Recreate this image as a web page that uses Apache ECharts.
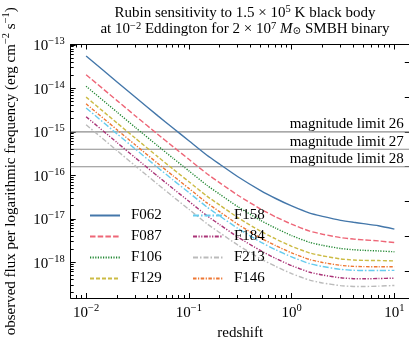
<!DOCTYPE html>
<html><head><meta charset="utf-8">
<script src="https://cdn.jsdelivr.net/npm/echarts@6/dist/echarts.min.js"></script>
<style>html,body{margin:0;padding:0;background:#fff}#c{width:409px;height:339px}</style>
</head><body><div id="c"></div>
<script>
// ---- data ----
const redshift = [0.01,0.02,0.03,0.05,0.07,0.1,0.15,0.2,0.3,0.5,0.7,1,1.5,2,3,4,5,7,10];
const F062 = [5.55e-14,1.41e-14,6.34e-15,2.34e-15,1.23e-15,6.27e-16,2.91e-16,1.80e-16,9.29e-17,4.46e-17,2.94e-17,1.98e-17,1.35e-17,1.14e-17,9.24e-18,8.33e-18,7.78e-18,6.94e-18,5.80e-18];
const F087 = [2.07e-14,5.24e-15,2.36e-15,8.74e-16,4.59e-16,2.34e-16,1.09e-16,6.74e-17,3.49e-17,1.68e-17,1.11e-17,7.53e-18,5.22e-18,4.44e-18,3.70e-18,3.43e-18,3.29e-18,3.11e-18,2.85e-18];
const F106 = [1.12e-14,2.85e-15,1.28e-15,4.75e-16,2.49e-16,1.27e-16,5.91e-17,3.67e-17,1.90e-17,9.17e-18,6.09e-18,4.13e-18,2.88e-18,2.46e-18,2.08e-18,1.95e-18,1.89e-18,1.83e-18,1.75e-18];
const F129 = [6.31e-15,1.60e-15,7.22e-16,2.67e-16,1.40e-16,7.16e-17,3.33e-17,2.07e-17,1.07e-17,5.18e-18,3.45e-18,2.34e-18,1.64e-18,1.41e-18,1.20e-18,1.13e-18,1.11e-18,1.10e-18,1.08e-18];
const F158 = [3.55e-15,9.01e-16,4.06e-16,1.50e-16,7.89e-17,4.03e-17,1.87e-17,1.16e-17,6.03e-18,2.92e-18,1.95e-18,1.33e-18,9.33e-19,8.03e-19,6.89e-19,6.56e-19,6.48e-19,6.50e-19,6.54e-19];
const F184 = [2.24e-15,5.68e-16,2.56e-16,9.48e-17,4.98e-17,2.54e-17,1.18e-17,7.34e-18,3.81e-18,1.85e-18,1.23e-18,8.41e-19,5.93e-19,5.11e-19,4.41e-19,4.21e-19,4.18e-19,4.24e-19,4.33e-19];
const F213 = [1.46e-15,3.71e-16,1.67e-16,6.19e-17,3.25e-17,1.66e-17,7.73e-18,4.80e-18,2.49e-18,1.21e-18,8.07e-19,5.51e-19,3.89e-19,3.36e-19,2.91e-19,2.79e-19,2.78e-19,2.84e-19,2.94e-19];
const F146 = [4.42e-15,1.12e-15,5.05e-16,1.87e-16,9.82e-17,5.02e-17,2.33e-17,1.45e-17,7.50e-18,3.63e-18,2.42e-18,1.65e-18,1.16e-18,9.95e-19,8.51e-19,8.07e-19,7.96e-19,7.94e-19,7.92e-19];
const seriesNames = ['F062','F087','F106','F129','F158','F184','F213','F146'];
const seriesValues = [F062,F087,F106,F129,F158,F184,F213,F146];
const legendCol1 = ['F062','F087','F106','F129'];
const legendCol2 = ['F158','F184','F213','F146'];
const magnitudeLimits = [26, 27, 28];
const xTickExponents = [-2,-1,0,1];
const yTickExponents = [-18,-17,-16,-15,-14,-13];
const titleLine1 = ['Rubin sensitivity to 1.5 × 10','5',' K black body'];
const titleLine2 = ['at 10','−2',' Eddington for 2 × 10','7',' ','M','⊙',' SMBH binary'];
const xLabel = 'redshift';
const yLabelParts = ['observed flux per logarithmic frequency (erg cm','−2',' s','−1',')'];

// ---- styling ----
const FONT = "'Liberation Serif','DejaVu Serif',serif";
const colors = {F062:'#4477AA',F087:'#EE6677',F106:'#228833',F129:'#CCBB44',F158:'#66CCEE',F184:'#AA3377',F213:'#BBBBBB',F146:'#EE7733'};
const dashes = {F062:'solid',F087:[5.5,2.2],F106:[1.2,1.4],F129:[4,2],F158:[6,2,1.5,2],F184:[4,1.5,1.2,1.5,1.2,1.5],F213:[5,2,1.5,2],F146:[3.5,1.5,1.2,1.5]};
const X_MIN = Math.pow(10,-2.15), X_MAX = Math.pow(10,1.15);
const Y_MIN = Math.pow(10,-18.82), Y_MAX = Math.pow(10,-12.99);
const MAG_TOP = 20.975, MAG_BOTTOM = 35.55;

function makeRich(lh){
  return {
    b:{fontSize:15,fontFamily:FONT,fontWeight:'normal',color:'#000',lineHeight:lh,verticalAlign:'bottom'},
    s:{fontSize:10.5,fontFamily:FONT,fontWeight:'normal',color:'#000',lineHeight:10,verticalAlign:'top'},
    i:{fontSize:15,fontFamily:FONT,fontWeight:'normal',color:'#000',fontStyle:'italic',lineHeight:lh,verticalAlign:'bottom'},
    u:{fontSize:10.5,fontFamily:FONT,fontWeight:'normal',color:'#000',lineHeight:10,verticalAlign:'bottom'}
  };
}
const richBase = makeRich(18);
const richTitle = makeRich(16.5);
function powLabel(v, list){
  const l = Math.log10(v), e = Math.round(l);
  if (Math.abs(l-e) > 1e-6 || list.indexOf(e) < 0) return '';
  return '{b|10}{s|' + (e<0 ? '−'+(-e) : String(e)) + '}';
}
const titleText = '{b|'+titleLine1[0]+'}{s|'+titleLine1[1]+'}{b|'+titleLine1[2]+'}\n' +
  '{b|'+titleLine2[0]+'}{s|'+titleLine2[1]+'}{b|'+titleLine2[2]+'}{s|'+titleLine2[3]+'}{b|'+titleLine2[4]+'}{i|'+titleLine2[5]+'}{u|'+titleLine2[6]+'}{b|'+titleLine2[7]+'}';
const yName = '{b|'+yLabelParts[0]+'}{s|'+yLabelParts[1]+'}{b|'+yLabelParts[2]+'}{s|'+yLabelParts[3]+'}{b|'+yLabelParts[4]+'}';

const xMinor = [], yMinor = [];
for (let e=-3; e<=1; e++) for (let k=2; k<=9; k++){ const v=k*Math.pow(10,e); if (v>X_MIN && v<X_MAX) xMinor.push([v, 1e-16]); }
for (let e=-19; e<=-14; e++) for (let k=2; k<=9; k++){ const v=k*Math.pow(10,e); if (v>Y_MIN && v<Y_MAX) yMinor.push([0.1, v]); }

const lineSeries = seriesNames.map((n,si)=>({
  name:n, type:'line', xAxisIndex:0, yAxisIndex:0,
  data: redshift.map((z,i)=>[z, seriesValues[si][i]]),
  symbol:'none', smooth:0.2, z:3,
  lineStyle:{color:colors[n], width:1.4, type:dashes[n]},
  itemStyle:{color:colors[n]}
}));
const magSeries = magnitudeLimits.map(m=>({
  name:'mag'+m, type:'line', xAxisIndex:0, yAxisIndex:1, z:2, silent:true,
  symbol:'circle', symbolSize:0, showSymbol:true,
  lineStyle:{color:'#8c8c8c', width:1.1, type:'solid'},
  itemStyle:{color:'#8c8c8c'},
  data:[
    {value:[X_MIN, m], label:{show:false}},
    {value:[X_MAX, m], label:{show:true, position:'left', distance:6, offset:[0,-7.5],
      formatter:'magnitude limit '+m, fontSize:15, fontFamily:FONT, color:'#000'}}
  ]
}));

function tickRender(axis){
  return function(params, api){
    const cs = params.coordSys;
    const p = api.coord([api.value(0), api.value(1)]);
    const st = {stroke:'#000', lineWidth:1};
    if (axis==='x'){
      const x = Math.round(p[0]-0.5)+0.5, yb = cs.y+cs.height, yt = cs.y;
      return {type:'group', children:[
        {type:'line', shape:{x1:x,y1:yb,x2:x,y2:yb-3}, style:st},
        {type:'line', shape:{x1:x,y1:yt,x2:x,y2:yt+3}, style:st}]};
    } else {
      const y = Math.round(p[1]-0.5)+0.5, xl = cs.x;
      return {type:'line', shape:{x1:xl,y1:y,x2:xl+3,y2:y}, style:st};
    }
  };
}

const legendCommon = {orient:'vertical', itemWidth:30, itemHeight:14, itemGap:6, top:203,
  itemStyle:{color:'rgba(0,0,0,0)', borderColor:'rgba(0,0,0,0)', borderWidth:0, opacity:0},
  textStyle:{fontSize:15, fontFamily:FONT, color:'#000', padding:[0,0,0,6]}, selectedMode:false};

const option = {
  animation:false,
  backgroundColor:'#fff',
  title:{text:titleText, left:240, top:-1, textAlign:'center', textStyle:{rich:richTitle, fontWeight:'normal', lineHeight:16.5}},
  legend:[
    Object.assign({data:legendCol1, left:84}, legendCommon),
    Object.assign({data:legendCol2, left:187}, legendCommon)
  ],
  grid:{left:70.7, top:44.5, width:339.1, height:253.5, containLabel:false, outerBoundsMode:'none'},
  xAxis:[
    {type:'log', position:'bottom', min:X_MIN, max:X_MAX,
     name:xLabel, nameLocation:'middle', nameGap:18.5,
     nameTextStyle:{fontSize:15, fontFamily:FONT, color:'#000'},
     axisLine:{show:true, onZero:false, lineStyle:{color:'#000', width:1}},
     axisTick:{show:true, inside:true, length:5, lineStyle:{color:'#000', width:1}},
     axisLabel:{margin:5, showMinLabel:false, showMaxLabel:false, formatter:v=>powLabel(v,xTickExponents), rich:richBase},
     splitLine:{show:false}, minorTick:{show:false}},
    {type:'log', position:'top', min:X_MIN, max:X_MAX,
     axisLine:{show:true, onZero:false, lineStyle:{color:'#000', width:1}},
     axisTick:{show:true, inside:true, length:5, lineStyle:{color:'#000', width:1}},
     axisLabel:{show:false}, splitLine:{show:false}}
  ],
  yAxis:[
    {type:'log', position:'left', min:Y_MIN, max:Y_MAX,
     name:yName, nameLocation:'middle', nameGap:52,
     nameTextStyle:{rich:richBase},
     axisLine:{show:true, onZero:false, lineStyle:{color:'#000', width:1}},
     axisTick:{show:true, inside:true, length:5, lineStyle:{color:'#000', width:1}},
     axisLabel:{margin:6, showMinLabel:false, showMaxLabel:false, formatter:v=>powLabel(v,yTickExponents), rich:richBase},
     splitLine:{show:false}},
    {type:'value', position:'right', inverse:true, min:MAG_TOP, max:MAG_BOTTOM, splitNumber:7,
     axisLine:{show:true, onZero:false, lineStyle:{color:'#000', width:1}},
     axisTick:{show:true, inside:true, length:5, lineStyle:{color:'#000', width:1}},
     axisLabel:{show:false}, splitLine:{show:false}}
  ],
  series: lineSeries.concat(magSeries, [
    {type:'custom', name:'xminor', xAxisIndex:0, yAxisIndex:0, data:xMinor, renderItem:tickRender('x'), silent:true, z:5, clip:false},
    {type:'custom', name:'yminor', xAxisIndex:0, yAxisIndex:0, data:yMinor, renderItem:tickRender('y'), silent:true, z:5, clip:false}
  ])
};
const chart = echarts.init(document.getElementById('c'), null, {renderer:'canvas'});
chart.setOption(option);
</script>
</body></html>
